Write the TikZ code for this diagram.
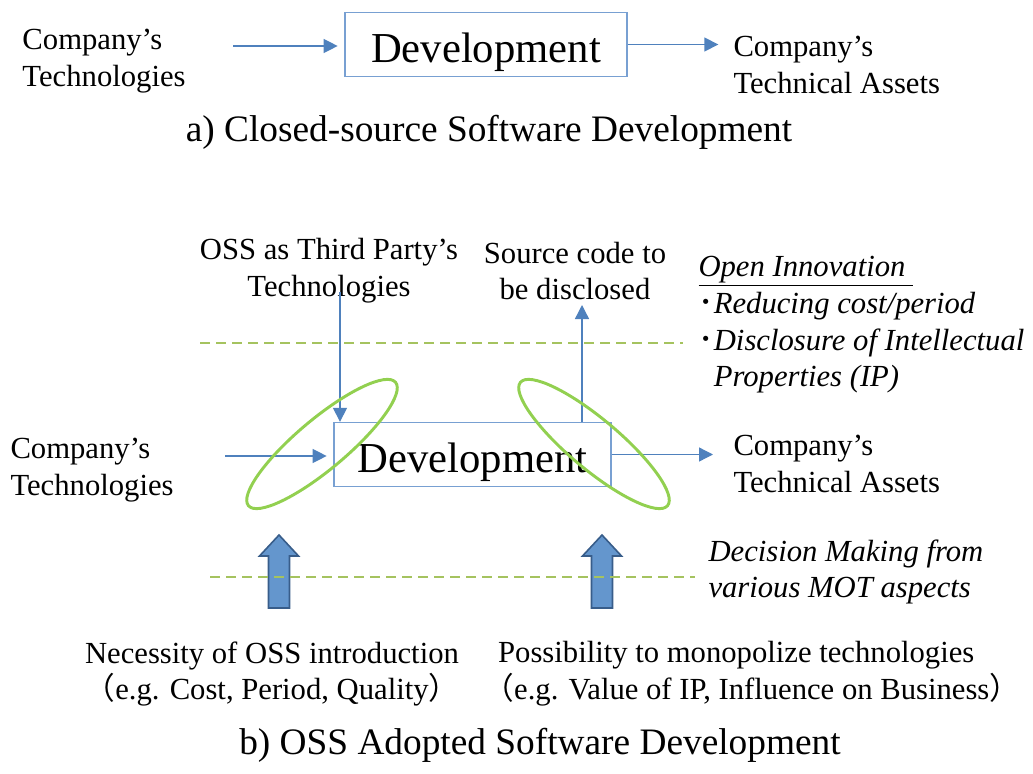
\documentclass[tikz,border=0pt]{standalone}
\usepackage{fontspec}
\setmainfont{Liberation Serif}
\newfontfamily\cjk{Noto Sans CJK JP}
\usetikzlibrary{arrows.meta}

\definecolor{ossblue}{RGB}{79,129,189}
\definecolor{boxblue}{RGB}{120,160,210}
\definecolor{ringgreen}{RGB}{146,208,80}
\definecolor{dashgreen}{RGB}{165,195,95}
\definecolor{padblue}{RGB}{100,150,205}
\definecolor{paddark}{RGB}{56,93,138}

\tikzset{every picture/.style={line width=0.75pt}}

\begin{document}
\begin{tikzpicture}[
            x=0.75pt,
            y=0.75pt,
            yscale=-1,
            xscale=1,
            every node/.style={text=black},
            line width=0.75pt,
            txt/.style={font=\fontsize{23}{27.5}\selectfont, align=left, inner sep=0pt},
            ctxt/.style={font=\fontsize{23}{27.5}\selectfont, align=center, inner sep=0pt},
            itxt/.style={font=\fontsize{23}{27.5}\selectfont\itshape, align=left, inner sep=0pt},
            devbox/.style={draw=boxblue, line width=1pt, font=\fontsize{32}{38}\selectfont, minimum height=48pt, text height=27pt, text depth=0pt, inner sep=0pt},
            flow/.style={draw=ossblue, line width=1pt, -{Triangle[length=10.5pt,width=10.5pt]}},
            ring/.style={draw=ringgreen, line width=2.2pt},
            border/.style={draw=dashgreen, line width=1.5pt, dash pattern=on 7.5pt off 4.5pt},
            pad/.style={draw=paddark, fill=padblue, line width=1.2pt},
            caption/.style={font=\fontsize{28}{33}\selectfont, inner sep=0pt}
        ]
            \useasboundingbox (0,0) rectangle (1033,774);

            \node[txt, anchor=west] (tecA) at (22,61) {Company’s\\Technologies};
            \node[devbox, minimum width=211.5pt] (devA) at (486,44.5) {Development};
            \node[txt, anchor=west] (assA) at (733,65) {Company’s\\Technical Assets};
            \node[caption] (capA) at (489,132) {a) Closed-source Software Development};
            \coordinate (inA) at (233,46);
            \draw[flow, shorten >=5pt] (inA) -- (inA -| devA.west);
            \draw[flow, shorten >=11pt] (devA.east) -- (devA.east -| assA.west);

            \node[devbox, minimum width=207.75pt] (devB) at (472.5,454.5) {Development};
            \node[ctxt] (oss) at (329,271) {OSS as Third Party’s\\Technologies};
            \node[ctxt] (src) at (575,271) {Source code to\\be disclosed};
            \node[txt, anchor=west] (tecB) at (10,470) {Company’s\\Technologies};
            \node[txt, anchor=west] (assB) at (733,464) {Company’s\\Technical Assets};
            \node[itxt, anchor=north west] (openinn) at (698,256) {\underline{Open Innovation\ }\\{\cjk ･}Reducing cost/period\\{\cjk ･}Disclosure of Intellectual\\\hphantom{\cjk ･}Properties (IP)};
            \node[itxt, anchor=north west] (mot) at (708,539) {Decision Making from\\various MOT aspects};
            \node[ctxt, anchor=north] (need) at (272,641) {Necessity of OSS introduction\\{\cjk （}e.g. Cost, Period, Quality{\cjk ）}};
            \node[txt, anchor=north west] (mono) at (483,641) {\hspace*{11pt}Possibility to monopolize technologies\\{\cjk （}e.g. Value of IP, Influence on Business{\cjk ）}};
            \node[caption] (capB) at (540,745) {b) OSS Adopted Software Development};

            \coordinate (ossfoot) at (340,292);
            \coordinate (srctop) at (582,305);
            \coordinate (inB) at (225,456);
            \draw[flow] (ossfoot) -- (ossfoot |- devB.north);
            \draw[flow] (srctop |- devB.north) -- (srctop);
            \draw[flow, shorten >=5pt] (inB) -- (inB -| devB.west);
            \draw[flow, shorten >=15pt] (devB.east) -- (devB.east -| assB.west);

            \foreach \cx in {279,602}
                \draw[pad] (\cx-10.5,608) -- (\cx-10.5,556) -- (\cx-19.5,556) -- (\cx,535) -- (\cx+19.5,556) -- (\cx+10.5,556) -- (\cx+10.5,608) -- cycle;

            \draw[border] (200,343) -- (683,343);
            \draw[border] (210,577) -- (695,577);

            \draw[ring, rotate around={-40:(322,444)}] (322,444) ellipse (96 and 25);
            \draw[ring, rotate around={40:(594,444)}] (594,444) ellipse (96 and 25);
        \end{tikzpicture}
\end{document}
